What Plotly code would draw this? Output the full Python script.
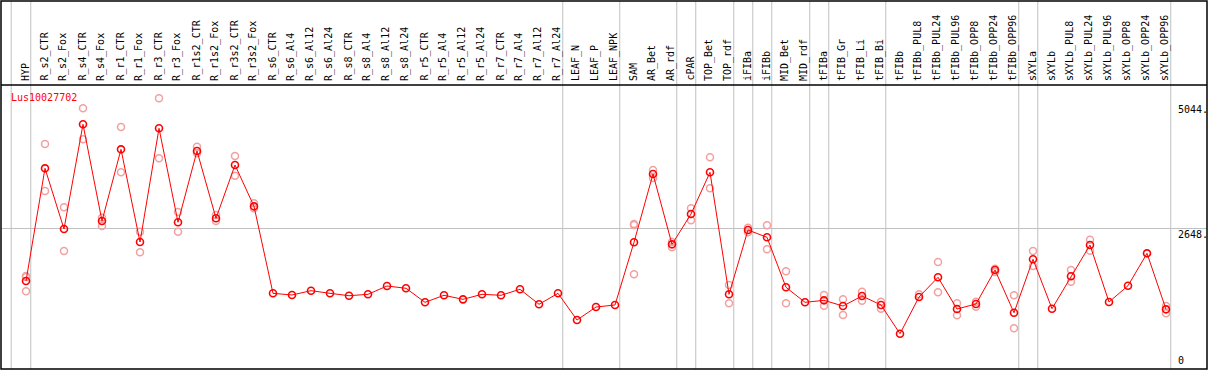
import plotly.graph_objects as go

categories = ["HYP", "R_s2_CTR", "R_s2_Fox", "R_s4_CTR", "R_s4_Fox", "R_r1_CTR", "R_r1_Fox",
              "R_r3_CTR", "R_r3_Fox", "R_r1s2_CTR", "R_r1s2_Fox", "R_r3s2_CTR", "R_r3s2_Fox",
              "R_s6_CTR", "R_s6_Al4", "R_s6_Al12", "R_s6_Al24", "R_s8_CTR", "R_s8_Al4",
              "R_s8_Al12", "R_s8_Al24", "R_r5_CTR", "R_r5_Al4", "R_r5_Al12", "R_r5_Al24",
              "R_r7_CTR", "R_r7_Al4", "R_r7_Al12", "R_r7_Al24", "LEAF_N", "LEAF_P", "LEAF_NPK",
              "SAM", "AR_Bet", "AR_rdf", "cPAR", "TOP_Bet", "TOP_rdf", "iFIBa", "iFIBb",
              "MID_Bet", "MID_rdf", "tFIBa", "tFIB_Gr", "tFIB_Li", "tFIB_Bi", "tFIBb",
              "tFIBb_PUL8", "tFIBb_PUL24", "tFIBb_PUL96", "tFIBb_OPP8", "tFIBb_OPP24",
              "tFIBb_OPP96", "sXYLa", "sXYLb", "sXYLb_PUL8", "sXYLb_PUL24", "sXYLb_PUL96",
              "sXYLb_OPP8", "sXYLb_OPP24", "sXYLb_OPP96"]

mean_values = [1643, 3796, 2637, 4637, 2789, 4159, 2388, 4561, 2765, 4127, 2841, 3859, 3070,
               1408, 1376, 1458, 1408, 1362, 1389, 1548, 1504, 1236, 1370, 1293, 1389,
               1370, 1485, 1198, 1408, 898, 1146, 1185,
               2383, 3687, 2344, 2923, 3720, 1389, 2618, 2478,
               1523, 1236, 1274, 1165, 1357, 1185, 636,
               1337, 1714, 1108, 1204, 1853, 1037,
               2058, 1114, 1733, 2331, 1242, 1553, 2172, 1102]

replicates = [[1739, 1720, 1446], [4261, 3363], [3051, 2216], [4943, 4350], [2853, 2694],
              [4585, 3720], [2585, 2191], [5134, 3987], [2961, 2585], [4209, 4083],
              [2904, 2789], [4031, 3655], [3128, 3032],
              [], [], [], [], [], [], [], [], [], [], [], [], [], [], [], [], [], [], [],
              [2732, 2713, 1771], [3764, 3611], [2388, 2287], [3032, 2803], [4007, 3414],
              [1567, 1217], [2661, 2574], [2707, 2249], [1828, 1217], [],
              [1376, 1171], [1293, 994], [1439, 1267], [1248, 1114], [],
              [1389], [2006, 1427], [1217, 988], [1248, 1152], [1878, 1815], [1370, 739],
              [2216, 1930], [], [1853, 1630], [2432, 2222], [], [], [], [1165, 1026]]

gene_name = "Lus10027702"
axis_ticks = [5044, 2648, 0]
axis_tick_text = ["5044.", "2648.", "0"]
gridline_value = 2648
group_ends = ["HYP", "R_r7_Al24", "LEAF_NPK", "AR_rdf", "cPAR", "TOP_rdf", "iFIBa", "iFIBb",
              "MID_rdf", "tFIBa", "tFIB_Bi", "tFIBb_OPP96", "sXYLa", "sXYLb_OPP96"]

W, H = 1209, 370
ML, MR, MT, MB = 1, 2, 1, 1
PH = H - MT - MB

def paper_y(py):
    return (H - MB - py) / PH

def paper_x(px):
    return (px - ML) / (W - ML - MR)

rep_x, rep_y = [], []
for c, reps in zip(categories, replicates):
    for v in reps:
        rep_x.append(c)
        rep_y.append(v)

idx = {c: i for i, c in enumerate(categories)}

fig = go.Figure()
fig.add_trace(go.Scatter(
    x=rep_x, y=rep_y, mode="markers",
    marker=dict(symbol="circle-open", size=7, color="#f2a0a0", line=dict(width=1.5)),
    hoverinfo="skip", showlegend=False))
fig.add_trace(go.Scatter(
    x=categories, y=mean_values, mode="lines+markers",
    line=dict(color="#ff0000", width=1),
    marker=dict(symbol="circle-open", size=7, color="#ff0000", line=dict(width=1.6)),
    showlegend=False))

shapes = []
sep_positions = [-0.78] + [idx[c] + 0.25 for c in group_ends]
for xp in sep_positions:
    shapes.append(dict(type="line", xref="x", yref="paper", x0=xp, x1=xp, y0=0, y1=1,
                       line=dict(color="#c0c0c0", width=1), layer="below"))
shapes.append(dict(type="line", xref="paper", yref="paper", x0=0, x1=1,
                   y0=paper_y(85), y1=paper_y(85), line=dict(color="black", width=1.5)))
shapes.append(dict(type="rect", xref="paper", yref="paper", x0=0, x1=1, y0=0, y1=1,
                   line=dict(color="black", width=1.5)))

annotations = []
for c in categories:
    annotations.append(dict(x=c, y=paper_y(83), xref="x", yref="paper", text=c,
                            textangle=-90, xanchor="center", yanchor="bottom",
                            showarrow=False, xshift=-1,
                            font=dict(family="DejaVu Sans Mono", size=10, color="black")))
for v, t in zip(axis_ticks, axis_tick_text):
    annotations.append(dict(x=paper_x(1177), y=v, xref="paper", yref="y", text=t,
                            xanchor="left", yanchor="top" if v > 0 else "bottom",
                            showarrow=False, borderpad=0,
                            font=dict(family="DejaVu Sans Mono", size=10, color="black")))
annotations.append(dict(x=paper_x(9), y=paper_y(97), xref="paper", yref="paper",
                        text=gene_name, xanchor="left", yanchor="middle", showarrow=False,
                        font=dict(family="DejaVu Sans Mono", size=10, color="#ff0000")))

fig.update_layout(
    width=W, height=H, margin=dict(l=ML, r=MR, t=MT, b=MB),
    paper_bgcolor="white", plot_bgcolor="white",
    xaxis=dict(type="category", categoryorder="array", categoryarray=categories,
               range=[-1.316, 62.158], showgrid=False, showticklabels=False, zeroline=False,
               ticks="", showline=False, fixedrange=True),
    yaxis=dict(range=[-38, 6993], tickvals=[gridline_value], showgrid=True,
               gridcolor="#c0c0c0", gridwidth=1, showticklabels=False, zeroline=False,
               ticks="", showline=False, fixedrange=True),
    shapes=shapes, annotations=annotations, showlegend=False,
)

fig.write_html("out.html", config={"displayModeBar": False},
               post_script="document.body.style.margin='0px';document.body.style.overflow='hidden';")
